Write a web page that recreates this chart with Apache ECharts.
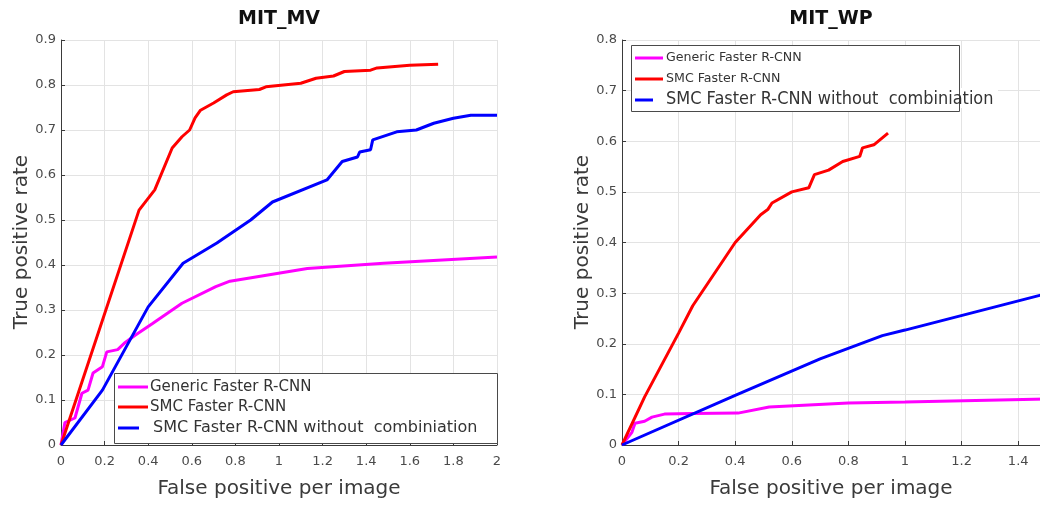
<!DOCTYPE html>
<html>
<head>
<meta charset="utf-8">
<script src="https://cdn.jsdelivr.net/npm/echarts@6/dist/echarts.min.js"></script>
<style>
html,body{margin:0;padding:0;background:#fff;overflow:hidden;width:1040px;height:507px;}
#chart{width:1200px;height:507px;}
</style>
</head>
<body>
<div id="chart"></div>
<script>
// ---- data (x = false positives per image, y = true positive rate) ----
const titles = ['MIT_MV', 'MIT_WP'];
const seriesNames = ['Generic Faster R-CNN', 'SMC Faster R-CNN', 'SMC Faster R-CNN without  combiniation'];
const xTickLabels = ['0','0.2','0.4','0.6','0.8','1','1.2','1.4','1.6','1.8','2'];

const mvGeneric = [[0,0],[0.018,0.05],[0.064,0.06],[0.096,0.115],[0.124,0.122],[0.147,0.16],[0.19,0.174],[0.21,0.207],[0.26,0.212],[0.29,0.226],[0.34,0.244],[0.42,0.27],[0.555,0.315],[0.71,0.352],[0.775,0.364],[1.13,0.392],[1.48,0.404],[2.0,0.418]];
const mvSMC = [[0,0],[0.358,0.522],[0.43,0.567],[0.51,0.66],[0.555,0.685],[0.59,0.70],[0.615,0.727],[0.64,0.744],[0.70,0.76],[0.76,0.778],[0.79,0.785],[0.91,0.79],[0.94,0.796],[1.10,0.804],[1.17,0.815],[1.25,0.82],[1.30,0.83],[1.42,0.833],[1.45,0.838],[1.60,0.844],[1.73,0.846]];
const mvSMCnoComb = [[0,0],[0.19,0.122],[0.40,0.307],[0.56,0.404],[0.715,0.449],[0.87,0.50],[0.97,0.54],[1.22,0.589],[1.29,0.63],[1.36,0.64],[1.37,0.651],[1.42,0.656],[1.43,0.678],[1.54,0.696],[1.63,0.70],[1.71,0.715],[1.80,0.726],[1.88,0.733],[2.0,0.733]];

const wpGeneric = [[0,0],[0.035,0.025],[0.046,0.043],[0.08,0.047],[0.106,0.055],[0.15,0.061],[0.25,0.062],[0.41,0.063],[0.52,0.075],[0.80,0.083],[1.0,0.085],[1.5,0.091]];
const wpSMC = [[0,0],[0.08,0.095],[0.2,0.221],[0.25,0.275],[0.40,0.40],[0.49,0.455],[0.515,0.465],[0.53,0.478],[0.60,0.50],[0.66,0.508],[0.68,0.534],[0.73,0.543],[0.78,0.56],[0.84,0.57],[0.85,0.587],[0.89,0.593],[0.94,0.616]];
const wpSMCnoComb = [[0,0],[0.40,0.098],[0.70,0.17],[0.92,0.216],[1.0,0.227],[1.5,0.299]];

const colors = ['#ff00ff', '#ff0000', '#0000ff'];

const chart = echarts.init(document.getElementById('chart'), null, {renderer: 'canvas', width: 1200, height: 507});

const FONT = '"DejaVu Sans", sans-serif';
function xAxisCfg(gi) {
  return {
    gridIndex: gi, type: 'value', min: 0, max: 2, interval: 0.2,
    axisLine: {show: true, onZero: false, lineStyle: {color: '#3a3a3a', width: 1}},
    axisTick: {show: true, inside: true, length: 4, lineStyle: {color: '#3a3a3a'}},
    axisLabel: {color: '#4a4a4a', fontSize: 13, fontFamily: FONT, margin: 10,
      formatter: v => xTickLabels[Math.round(v / 0.2)] ?? String(v)},
    splitLine: {show: true, lineStyle: {color: '#e3e3e3', width: 1}}
  };
}
function yAxisCfg(gi, max) {
  return {
    gridIndex: gi, type: 'value', min: 0, max: max, interval: 0.1,
    axisLine: {show: true, onZero: false, lineStyle: {color: '#3a3a3a', width: 1}},
    axisTick: {show: true, inside: true, length: 4, lineStyle: {color: '#3a3a3a'}},
    axisLabel: {color: '#4a4a4a', fontSize: 13, fontFamily: FONT, margin: 5,
      formatter: v => (Math.round(v * 10) / 10).toString()},
    splitLine: {show: true, lineStyle: {color: '#e3e3e3', width: 1}}
  };
}
function line(name, data, ci, gi) {
  return {
    name: name, type: 'line', data: data, xAxisIndex: gi, yAxisIndex: gi,
    symbol: 'none', smooth: false, clip: true,
    lineStyle: {color: colors[ci], width: 3}, itemStyle: {color: colors[ci]},
    animation: false, z: 3
  };
}

function txt(x, y, text, size, opts) {
  opts = opts || {};
  return {
    type: 'text', x: x, y: y, rotation: opts.rotation || 0, z: 100,
    scaleX: opts.scaleX || 1,
    style: {
      text: text, fill: opts.color || '#333',
      font: (opts.bold ? 'bold ' : '') + size + 'px ' + FONT,
      textAlign: opts.align || 'center', verticalAlign: 'middle', textVerticalAlign: 'middle'
    }
  };
}
function seg(x1, x2, y, c) {
  return {type: 'line', z: 101, shape: {x1: x1, y1: y, x2: x2, y2: y}, style: {stroke: c, lineWidth: 3}};
}

const graphics = [
  // titles
  txt(279, 19, titles[0], 19, {bold: true, color: '#111'}),
  txt(831, 19, titles[1], 19, {bold: true, color: '#111'}),
  // axis names
  txt(22, 242, 'True positive rate', 20, {rotation: Math.PI / 2, color: '#3a3a3a'}),
  txt(583, 242, 'True positive rate', 20, {rotation: Math.PI / 2, color: '#3a3a3a'}),
  txt(279, 489, 'False positive per image', 20, {color: '#3a3a3a'}),
  txt(831, 489, 'False positive per image', 20, {color: '#3a3a3a'}),
  // left legend
  {type: 'rect', z: 99, shape: {x: 114.5, y: 373.5, width: 383, height: 70}, style: {fill: '#fff', stroke: '#4a4a4a', lineWidth: 1}},
  seg(118, 148, 387, colors[0]), seg(118, 148, 407, colors[1]), seg(118, 139, 428, colors[2]),
  txt(150, 387, seriesNames[0], 15, {align: 'left', color: '#333', scaleX: 1.0}),
  txt(150, 407, seriesNames[1], 15, {align: 'left', color: '#333', scaleX: 1.0}),
  txt(153, 428, seriesNames[2], 16, {align: 'left', color: '#333', scaleX: 1.0}),
  // right legend
  {type: 'rect', z: 99, shape: {x: 631.5, y: 45.5, width: 328, height: 66}, style: {fill: '#fff', stroke: '#4a4a4a', lineWidth: 1}},
  {type: 'rect', z: 99, shape: {x: 960, y: 88, width: 38, height: 20}, style: {fill: '#fff'}},
  seg(635, 663, 58, colors[0]), seg(635, 663, 79, colors[1]), seg(635, 653, 100, colors[2]),
  txt(666, 58, seriesNames[0], 13, {align: 'left', color: '#333', scaleX: 0.97}),
  txt(666, 79, seriesNames[1], 13, {align: 'left', color: '#333', scaleX: 0.97}),
  txt(666, 100, seriesNames[2], 17, {align: 'left', color: '#333', scaleX: 0.95})
];

const option = {
  backgroundColor: '#fff',
  animation: false,
  grid: [
    {left: 61, top: 40, width: 436, height: 405, containLabel: false},
    {left: 622, top: 40, width: 566, height: 405, containLabel: false}
  ],
  xAxis: [xAxisCfg(0), xAxisCfg(1)],
  yAxis: [yAxisCfg(0, 0.9), yAxisCfg(1, 0.8)],
  series: [
    line(seriesNames[0], mvGeneric, 0, 0),
    line(seriesNames[1], mvSMC, 1, 0),
    line(seriesNames[2], mvSMCnoComb, 2, 0),
    line(seriesNames[0], wpGeneric, 0, 1),
    line(seriesNames[1], wpSMC, 1, 1),
    line(seriesNames[2], wpSMCnoComb, 2, 1)
  ],
  graphic: graphics
};
chart.setOption(option);
</script>
</body>
</html>
